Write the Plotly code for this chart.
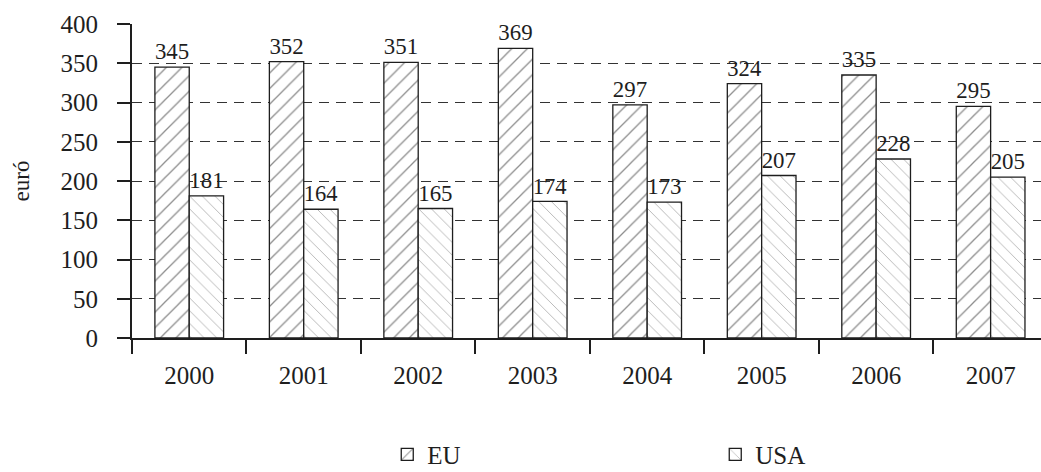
import plotly.graph_objects as go

years = ["2000", "2001", "2002", "2003", "2004", "2005", "2006", "2007"]
eu = [345, 352, 351, 369, 297, 324, 335, 295]
usa = [181, 164, 165, 174, 173, 207, 228, 205]
y_ticks = [0, 50, 100, 150, 200, 250, 300, 350, 400]

INK = "#1e1e1e"
FONT = "Liberation Serif"

fig = go.Figure()
fig.add_trace(go.Bar(
    name="EU", x=years, y=eu, text=eu, textposition="outside",
    marker=dict(color="white", line=dict(color=INK, width=1.3),
                pattern=dict(shape="/", fgcolor=INK, bgcolor="white",
                             size=11, solidity=0.12)),
    textfont=dict(family=FONT, size=23, color=INK), cliponaxis=False,
))
fig.add_trace(go.Bar(
    name="USA", x=years, y=usa, text=usa, textposition="outside",
    marker=dict(color="white", line=dict(color=INK, width=1.3),
                pattern=dict(shape="\\", fgcolor="#666666", bgcolor="white",
                             size=9, solidity=0.1)),
    textfont=dict(family=FONT, size=23, color=INK), cliponaxis=False,
))

fig.update_layout(
    width=1041, height=472,
    margin=dict(l=132, r=0, t=24, b=134, autoexpand=False),
    paper_bgcolor="white", plot_bgcolor="white",
    barmode="group", bargap=0.4, bargroupgap=0,
    font=dict(family=FONT, size=25, color=INK),
    showlegend=True,
    legend=dict(orientation="h", xref="container", yref="container",
                x=0.372, y=0.037, xanchor="left", yanchor="middle",
                entrywidth=283, entrywidthmode="pixels",
                font=dict(family=FONT, size=25, color=INK),
                bgcolor="rgba(0,0,0,0)"),
    xaxis=dict(range=[-0.5, 7.44], showline=True, linecolor=INK, linewidth=2,
               ticks="outside", tickson="boundaries", ticklen=14,
               tickwidth=2, tickcolor=INK, showgrid=False, automargin=False,
               ticklabelstandoff=14,
               tickfont=dict(family=FONT, size=25, color=INK)),
    yaxis=dict(range=[0, 400], tickvals=y_ticks, showline=True, linecolor=INK,
               linewidth=2, ticks="outside", ticklen=13, tickwidth=2,
               tickcolor=INK, showgrid=True, gridcolor="#333333",
               gridwidth=1.2, griddash="10px,7px", zeroline=False,
               ticklabelstandoff=14, automargin=False,
               tickfont=dict(family=FONT, size=25, color=INK),
               title=dict(text="euró", standoff=24,
                          font=dict(family=FONT, size=23, color=INK))),
)

fig.write_html("out.html")
